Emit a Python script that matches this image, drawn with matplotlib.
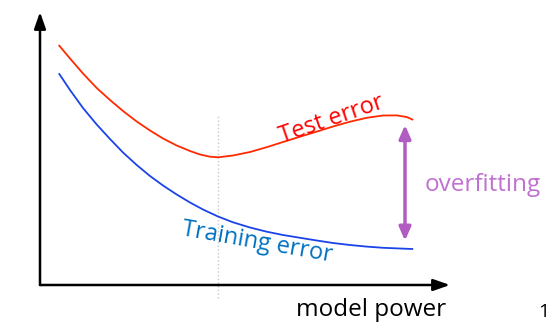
import matplotlib.pyplot as plt

plt.rcParams['font.family'] = ['Open Sans', 'DejaVu Sans']

# model power and error (arbitrary units)
test_x = [19.3, 30, 43, 56.7, 70, 83, 96.7, 110, 123, 136.7, 150, 160, 170, 178,
          193, 210, 226.7, 243, 260, 276.7, 293, 310, 326.7, 343, 356.7, 366.7, 372.3]
test_err = [239.3, 226.5, 211.5, 197, 185, 174, 163.5, 154.5, 146.5, 139.5, 134, 130.5, 128.3, 127.7,
            129.5, 133, 137.8, 143, 148.3, 153.4, 158.5, 163.3, 167.2, 169.5, 169.6, 168, 165.5]

train_x = [19.3, 30, 43, 56.7, 70, 83, 96.7, 110, 123, 136.7, 150, 163, 178,
           193, 210, 226.7, 243, 260, 276.7, 293, 310, 326.7, 343, 372.3]
train_err = [211, 195, 177, 160.5, 146, 132.5, 120, 109, 99.5, 90.5, 82.5, 75.5, 68.5,
             62.7, 57.5, 53.3, 50, 47.2, 44.5, 42, 40, 38.4, 37.2, 36]

best_x = 178       # sweet spot (dotted line)
gap_x = 365        # where the overfitting gap is marked
gap_top, gap_bottom = 160, 44.3

fig = plt.figure(figsize=(5.49, 3.22), dpi=100)
ax = fig.add_axes([0, 0, 1, 1])
ax.set_xlim(-40, 509)
ax.set_ylim(-37, 285)
ax.axis('off')

# axes with arrow heads
arrow = '-|>,head_length=1.0,head_width=0.35'
ax.annotate('', xy=(410, 0), xytext=(0, 0),
            arrowprops=dict(arrowstyle=arrow, color='black', lw=1.8,
                            shrinkA=0, shrinkB=0))
ax.annotate('', xy=(0, 273), xytext=(0, 0),
            arrowprops=dict(arrowstyle=arrow, color='black', lw=1.8,
                            shrinkA=0, shrinkB=0))

# dotted vertical marker
ax.plot([best_x, best_x], [-13, 170], color='#c8c8c8', lw=1, ls=':')

# curves
ax.plot(test_x, test_err, color='#ff2a00', lw=1.3)
ax.plot(train_x, train_err, color='#1a44e8', lw=1.3)

# overfitting gap arrow
ax.annotate('', xy=(gap_x, gap_top), xytext=(gap_x, gap_bottom),
            arrowprops=dict(arrowstyle='<|-|>,head_length=0.8,head_width=0.35',
                            color='#b05cc0', lw=2.5, shrinkA=0, shrinkB=0))

ax.text(292, 165, 'Test error', color='red', fontsize=17,
        rotation=19, ha='center', va='center')
ax.text(217, 43, 'Training error', color='#0070c0', fontsize=17,
        rotation=-10, ha='center', va='center')
ax.text(385, 100, 'overfitting', color='#c070d0', fontsize=17.5,
        ha='left', va='center')
ax.text(406, -25, 'model power', color='black', fontsize=17.5,
        ha='right', va='center')
ax.text(509, -27, '1', color='black', fontsize=14,
        ha='right', va='center')

fig.savefig('out.png', dpi=100)
